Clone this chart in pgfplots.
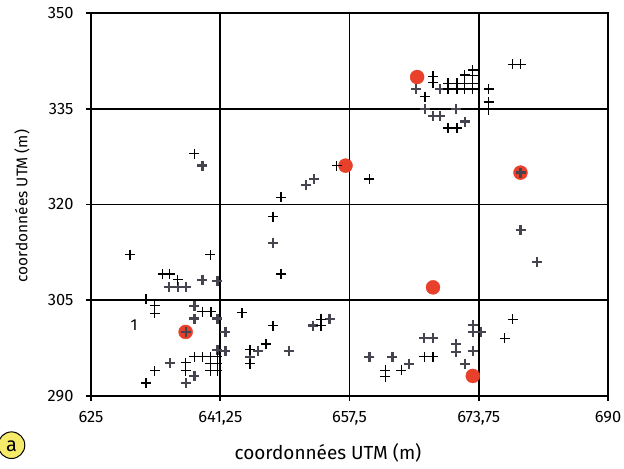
\documentclass[border=0pt]{standalone}
\usepackage{pgfplots}
\pgfplotsset{compat=1.18}
\usepackage{fontspec}
\setmainfont{Fira Sans}
\definecolor{pointred}{HTML}{E8402A}
\definecolor{crossgray}{HTML}{45454F}
\definecolor{badge}{HTML}{F6EA6A}

\begin{document}
\begin{tikzpicture}[x=1bp,y=1bp]
\useasboundingbox (-91,-73.3) rectangle (533,395.7);
\begin{axis}[
    at={(0,0)}, anchor=south west,
    scale only axis,
    width=517bp, height=382.4bp,
    xmin=625, xmax=690, ymin=290, ymax=350,
    xtick={625,641.25,657.5,673.75,690},
    xticklabels={625,{641,25},{657,5},{673,75},690},
    ytick={290,305,320,335,350},
    yticklabels={290,305,320,335,350},
    tick label style={font=\fontsize{16.5}{18}\selectfont},
    xticklabel style={yshift=-7bp},
    yticklabel style={xshift=-9bp},
    xtick pos=bottom, ytick pos=left,
    tick align=outside,
    major tick length=5bp,
    every tick/.style={black, line width=1.9pt},
    xmajorgrids, ymajorgrids,
    grid style={black, line width=1.9pt},
    axis line style={black, line width=1.9pt},
    clip=false,
    ]
    % red circles (drawn first, crosses on top)
    \addplot[only marks, mark=*, mark size=7bp, color=pointred] coordinates {
        (657.0,326.1) (666.0,340.0) (679.0,325.0)
        (668.0,307.0) (636.9,300.0) (673.0,293.1)
    };
    % dark grey crosses
    \addplot[only marks, mark=+, mark size=5bp, color=crossgray,
        mark options={line width=2.3pt}] coordinates {
        (639.0,326.1) (652.0,323.1) (653.0,324.0)
        (665.9,338.1) (668.9,338.1) (667.0,335.0)
        (668.0,333.9) (668.9,333.9) (670.9,335.0) (672.0,333.0)
        (679.0,325.0) (647.9,314.0)
        (634.8,307.0) (635.9,307.0) (636.9,307.0)
        (639.0,308.2) (640.9,308.0) (638.0,304.1)
        (638.0,302.1) (640.9,302.1) (641.9,300.0)
        (652.9,301.0) (655.0,302.0)
        (646.0,297.0) (645.0,296.1) (649.9,297.0)
        (641.9,297.0) (640.9,297.2) (634.9,295.1)
        (638.0,293.1) (636.9,292.0) (636.9,300.0)
        (679.0,316.0) (681.1,311.0)
        (673.0,301.1) (673.0,300.0) (674.0,300.0)
        (666.9,299.0) (668.0,299.0)
        (670.9,298.1) (670.9,296.9) (673.0,297.0)
        (672.0,295.0) (665.0,295.0) (662.9,296.1) (660.0,296.1)
    };
    % thin black crosses
    \addplot[only marks, mark=+, mark size=5bp, color=black,
        mark options={line width=1.3pt}] coordinates {
        (638.0,328.0) (648.9,321.1) (655.9,326.1)
        (668.0,340.1) (668.0,339.1) (667.0,336.9)
        (669.9,339.0) (669.9,338.1) (671.0,339.0) (671.0,338.1)
        (672.0,340.3) (672.0,339.0) (672.0,338.1)
        (673.0,341.1) (673.0,340.2) (673.0,339.0) (673.0,338.1)
        (675.0,338.1) (675.0,336.1) (675.0,334.9)
        (669.9,332.0) (671.0,332.0)
        (678.0,342.0) (679.0,342.0)
        (660.0,324.0)
        (647.9,318.1) (648.9,309.1)
        (629.9,312.1) (640.0,312.1)
        (634.0,309.1) (634.9,309.1) (635.9,308.2)
        (631.9,305.1) (633.0,304.1) (633.0,302.9)
        (639.0,303.2) (640.1,303.2) (644.0,303.0)
        (647.9,301.0) (653.9,301.0) (653.9,302.0)
        (647.0,298.1) (645.0,297.2) (645.0,295.0)
        (640.9,296.1) (640.9,295.0) (640.9,293.9)
        (640.0,296.1) (640.0,295.0) (640.0,293.9)
        (639.0,296.1) (638.0,296.1)
        (636.9,295.2) (636.9,293.9)
        (633.0,293.9) (631.9,292.0)
        (678.0,302.0) (677.0,299.0)
        (666.9,296.1) (668.0,296.1)
        (664.0,294.0) (662.0,294.0) (662.0,293.0)
    };
    \node[font=\fontsize{16}{18}\selectfont] at (axis cs:630.4,301.0) {1};
\end{axis}
\node[font=\fontsize{19}{21}\selectfont] at (237,-57.3) {coordonnées UTM (m)};
\node[font=\fontsize{15.5}{17}\selectfont, rotate=90] at (-69,189.7) {coordonnées UTM (m)};
\draw[black, line width=1pt, fill=badge] (-79.5,-49.5) circle (13.3);
\node[font=\fontsize{20}{22}\selectfont] at (-79.5,-51) {a};
\end{tikzpicture}
\end{document}
